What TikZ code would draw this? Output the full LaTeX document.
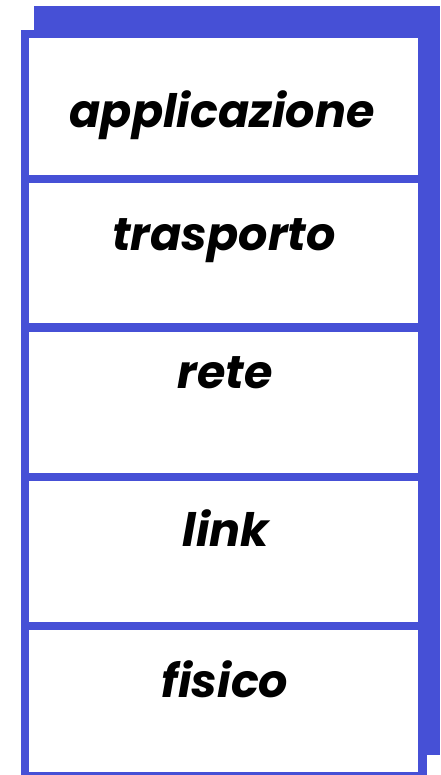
\documentclass[tikz,border=0pt]{standalone}
\usepackage{fontspec}
\setmainfont{Poppins}
\definecolor{stackblue}{RGB}{70,80,214}
\begin{document}
\begin{tikzpicture}[x=1pt,y=-1pt,
  layerbox/.style={fill=white,draw=none},
  layertext/.style={font=\fontsize{46}{54}\selectfont\bfseries\itshape,anchor=center,inner sep=0pt}]
\useasboundingbox (0,0) rectangle (440,775);
\fill[stackblue] (34,6) rectangle (440,755);
\fill[stackblue] (21,30) rectangle (427,775);
\fill[layerbox] (29,38) rectangle (418,175);
\fill[layerbox] (29,183) rectangle (418,323);
\fill[layerbox] (29,332) rectangle (418,473);
\fill[layerbox] (29,481) rectangle (418,622);
\fill[layerbox] (29,630) rectangle (418,772);
\node[layertext] (t1) at (222,115) {applicazione};
\node[layertext] (t2) at (224,241) {trasporto};
\node[layertext] (t3) at (225,373) {rete};
\node[layertext] (t4) at (226,528) {link};
\node[layertext] (t5) at (225,679) {fisico};
\end{tikzpicture}
\end{document}
